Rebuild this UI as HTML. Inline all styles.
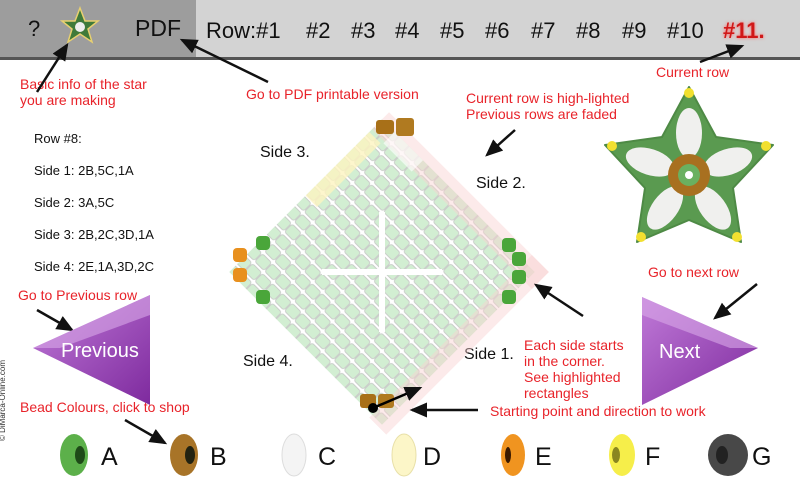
<!DOCTYPE html>
<html><head><meta charset="utf-8"><style>
body{margin:0;width:800px;height:487px;overflow:hidden;background:#fff;font-family:"Liberation Sans",sans-serif;position:relative}
.r{position:absolute;color:#e8232a;font-size:14px;line-height:16px;white-space:nowrap}
.k{position:absolute;color:#111;font-size:14px;white-space:nowrap}
.h{position:absolute;top:18px;font-size:22px;color:#111}
</style></head><body>
<div style="position:absolute;left:0;top:0;width:196px;height:58px;background:#9d9d9d"></div>
<div style="position:absolute;left:196px;top:0;width:604px;height:58px;background:#d3d3d3"></div>
<div style="position:absolute;left:0;top:57px;width:800px;height:3px;background:#555"></div>
<div class="k" style="left:28px;top:16px;font-size:22px">?</div>
<div class="k" style="left:135px;top:15px;font-size:23px">PDF</div>
<div class="h" style="left:206px">Row:#1</div>
<div class="h" style="left:306px">#2</div>
<div class="h" style="left:351px">#3</div>
<div class="h" style="left:395px">#4</div>
<div class="h" style="left:440px">#5</div>
<div class="h" style="left:485px">#6</div>
<div class="h" style="left:531px">#7</div>
<div class="h" style="left:576px">#8</div>
<div class="h" style="left:622px">#9</div>
<div class="h" style="left:667px">#10</div>
<div class="h" style="left:723px;font-weight:bold;color:#d01818;text-shadow:0 0 3px #f66">#11.</div>
<div class="r" style="left:20px;top:76px">Basic info of the star<br>you are making</div>
<div class="r" style="left:246px;top:86px">Go to PDF printable version</div>
<div class="r" style="left:656px;top:64px">Current row</div>
<div class="r" style="left:466px;top:90px">Current row is high-lighted<br>Previous rows are faded</div>
<div class="k" style="left:34px;top:123px;font-size:13px;line-height:32px">Row #8:<br>Side 1: 2B,5C,1A<br>Side 2: 3A,5C<br>Side 3: 2B,2C,3D,1A<br>Side 4: 2E,1A,3D,2C</div>
<div class="r" style="left:18px;top:287px">Go to Previous row</div>
<div class="r" style="left:648px;top:264px">Go to next row</div>
<div class="r" style="left:524px;top:337px">Each side starts<br>in the corner.<br>See highlighted<br>rectangles</div>
<div class="r" style="left:490px;top:403px">Starting point and direction to work</div>
<div class="r" style="left:20px;top:399px">Bead Colours, click to shop</div>
<div class="k" style="left:260px;top:144px;font-size:16px">Side 3.</div>
<div class="k" style="left:476px;top:175px;font-size:16px">Side 2.</div>
<div class="k" style="left:464px;top:346px;font-size:16px">Side 1.</div>
<div class="k" style="left:243px;top:353px;font-size:16px">Side 4.</div>
<div style="position:absolute;left:-38px;top:396px;transform:rotate(-90deg);font-size:8px;color:#333;white-space:nowrap">© DiMarca-Online.com</div>
<svg width="800" height="487" style="position:absolute;left:0;top:0">
<defs>
<pattern id="bp" width="14" height="14" patternUnits="userSpaceOnUse">
<rect x="0" y="0" width="14" height="14" fill="#fff"/>
<rect x="0.5" y="1.5" width="13" height="11" rx="2.5" fill="#cdeccd" stroke="#c4c8c4" stroke-width="1"/>
</pattern>
<marker id="ah" markerWidth="8" markerHeight="8" refX="6" refY="3" orient="auto"><path d="M0,0L7,3L0,6z" fill="#111"/></marker>
<linearGradient id="pg" x1="0" y1="0" x2="1" y2="1"><stop offset="0" stop-color="#c07ad8"/><stop offset="1" stop-color="#7e2a9e"/></linearGradient>
</defs>
<polygon points="80,8 85,21 98,21 88,29 92,42 80,34 68,42 72,29 62,21 75,21" fill="#3f7a3a" stroke="#e8d070" stroke-width="1.5"/>
<circle cx="80" cy="27" r="5" fill="#eee"/>
<g transform="translate(382,272) rotate(45)">
<rect x="-108" y="-108" width="216" height="216" fill="url(#bp)" opacity="0.9"/>
<g transform="rotate(-45)"><rect x="-3" y="-60" width="6" height="120" fill="#fff"/><rect x="-60" y="-3" width="120" height="6" fill="#fff"/></g>
<rect x="-108" y="-118" width="226" height="24" fill="#f8d0d0" opacity="0.45"/>
<rect x="94" y="-118" width="24" height="230" fill="#f8d0d0" opacity="0.45"/>
<rect x="-90" y="-108" width="40" height="16" fill="#fff" opacity="0.6"/>
<rect x="-108" y="-90" width="16" height="90" fill="#fdf4c0" opacity="0.8"/>
</g>
<rect x="396" y="118" width="18" height="18" rx="3" fill="#b07a20"/>
<rect x="376" y="120" width="18" height="14" rx="3" fill="#a87018"/>
<rect x="233" y="248" width="14" height="14" rx="4" fill="#e8901e"/>
<rect x="233" y="268" width="14" height="14" rx="4" fill="#e8901e"/>
<rect x="256" y="236" width="14" height="14" rx="4" fill="#4aa63a"/>
<rect x="256" y="290" width="14" height="14" rx="4" fill="#4aa63a"/>
<rect x="502" y="238" width="14" height="14" rx="4" fill="#4aa63a"/>
<rect x="512" y="252" width="14" height="14" rx="4" fill="#4aa63a"/>
<rect x="512" y="270" width="14" height="14" rx="4" fill="#4aa63a"/>
<rect x="502" y="290" width="14" height="14" rx="4" fill="#4aa63a"/>
<rect x="360" y="394" width="16" height="14" rx="3" fill="#a87018"/>
<rect x="378" y="394" width="16" height="14" rx="3" fill="#b07a20"/>
<circle cx="373" cy="408" r="5" fill="#000"/>
<line x1="373" y1="408" x2="420" y2="388" stroke="#000" stroke-width="2.5" marker-end="url(#ah)"/>
<g stroke="#111" stroke-width="2.5" fill="none">
<line x1="37" y1="92" x2="67" y2="45" marker-end="url(#ah)"/>
<line x1="268" y1="82" x2="182" y2="40" marker-end="url(#ah)"/>
<line x1="700" y1="62" x2="742" y2="46" marker-end="url(#ah)"/>
<line x1="515" y1="130" x2="487" y2="155" marker-end="url(#ah)"/>
<line x1="37" y1="310" x2="72" y2="330" marker-end="url(#ah)"/>
<line x1="757" y1="284" x2="715" y2="318" marker-end="url(#ah)"/>
<line x1="583" y1="316" x2="536" y2="285" marker-end="url(#ah)"/>
<line x1="478" y1="410" x2="412" y2="410" marker-end="url(#ah)"/>
<line x1="125" y1="420" x2="165" y2="443" marker-end="url(#ah)"/>
</g>
<polygon points="33,348 150,295 150,405" fill="url(#pg)"/>
<polygon points="33,348 150,295 150,315 60,348" fill="#d8a8e8" opacity="0.6"/>
<text x="61" y="357" font-family="Liberation Sans" font-size="20" fill="#fff">Previous</text>
<polygon points="758,348 642,297 642,405" fill="url(#pg)"/>
<polygon points="642,297 758,348 730,348 642,315" fill="#d8a8e8" opacity="0.6"/>
<text x="659" y="358" font-family="Liberation Sans" font-size="20" fill="#fff">Next</text>
<!-- big star -->
<polygon points="689,87 716,137 773,145 733,188 741,242 689,220 637,242 645,188 605,145 662,137" fill="#5a9a50" stroke="#4e8a45" stroke-width="2" stroke-linejoin="round"/>
<g fill="#f0f0ee">
<ellipse cx="689" cy="133" rx="13" ry="25"/>
<ellipse cx="728" cy="162" rx="13" ry="25" transform="rotate(72 728 162)"/>
<ellipse cx="713" cy="208" rx="13" ry="25" transform="rotate(144 713 208)"/>
<ellipse cx="665" cy="208" rx="13" ry="25" transform="rotate(216 665 208)"/>
<ellipse cx="650" cy="162" rx="13" ry="25" transform="rotate(288 650 162)"/>
</g>
<circle cx="689" cy="175" r="21" fill="#a87020"/>
<circle cx="689" cy="175" r="11" fill="#6ab060"/>
<circle cx="689" cy="175" r="4" fill="#fff"/>
<g fill="#f2e030"><circle cx="689" cy="93" r="5"/><circle cx="766" cy="146" r="5"/><circle cx="612" cy="146" r="5"/><circle cx="641" cy="237" r="5"/><circle cx="737" cy="237" r="5"/></g>
<g>
<ellipse cx="74" cy="455" rx="14" ry="21" fill="#5cb04a"/><ellipse cx="80" cy="455" rx="5" ry="9" fill="#1e4a18"/>
<ellipse cx="184" cy="455" rx="14" ry="21" fill="#a87428"/><ellipse cx="190" cy="455" rx="5" ry="9" fill="#221"/>
<ellipse cx="294" cy="455" rx="12" ry="21" fill="#f4f4f4" stroke="#ddd"/>
<ellipse cx="404" cy="455" rx="12" ry="21" fill="#fcf6c8" stroke="#e8e0a8"/>
<ellipse cx="513" cy="455" rx="12" ry="21" fill="#f09420"/><ellipse cx="508" cy="455" rx="3" ry="8" fill="#3a1a00"/>
<ellipse cx="622" cy="455" rx="13" ry="21" fill="#f6ee4a"/><ellipse cx="616" cy="455" rx="4" ry="8" fill="#8a8620"/>
<ellipse cx="728" cy="455" rx="20" ry="21" fill="#484848"/><ellipse cx="722" cy="455" rx="6" ry="9" fill="#222"/>
</g>
<g font-family="Liberation Sans" font-size="25" fill="#111">
<text x="101" y="465">A</text><text x="210" y="465">B</text><text x="318" y="465">C</text><text x="423" y="465">D</text><text x="535" y="465">E</text><text x="645" y="465">F</text><text x="752" y="465">G</text>
</g>
</svg>
</body></html>
